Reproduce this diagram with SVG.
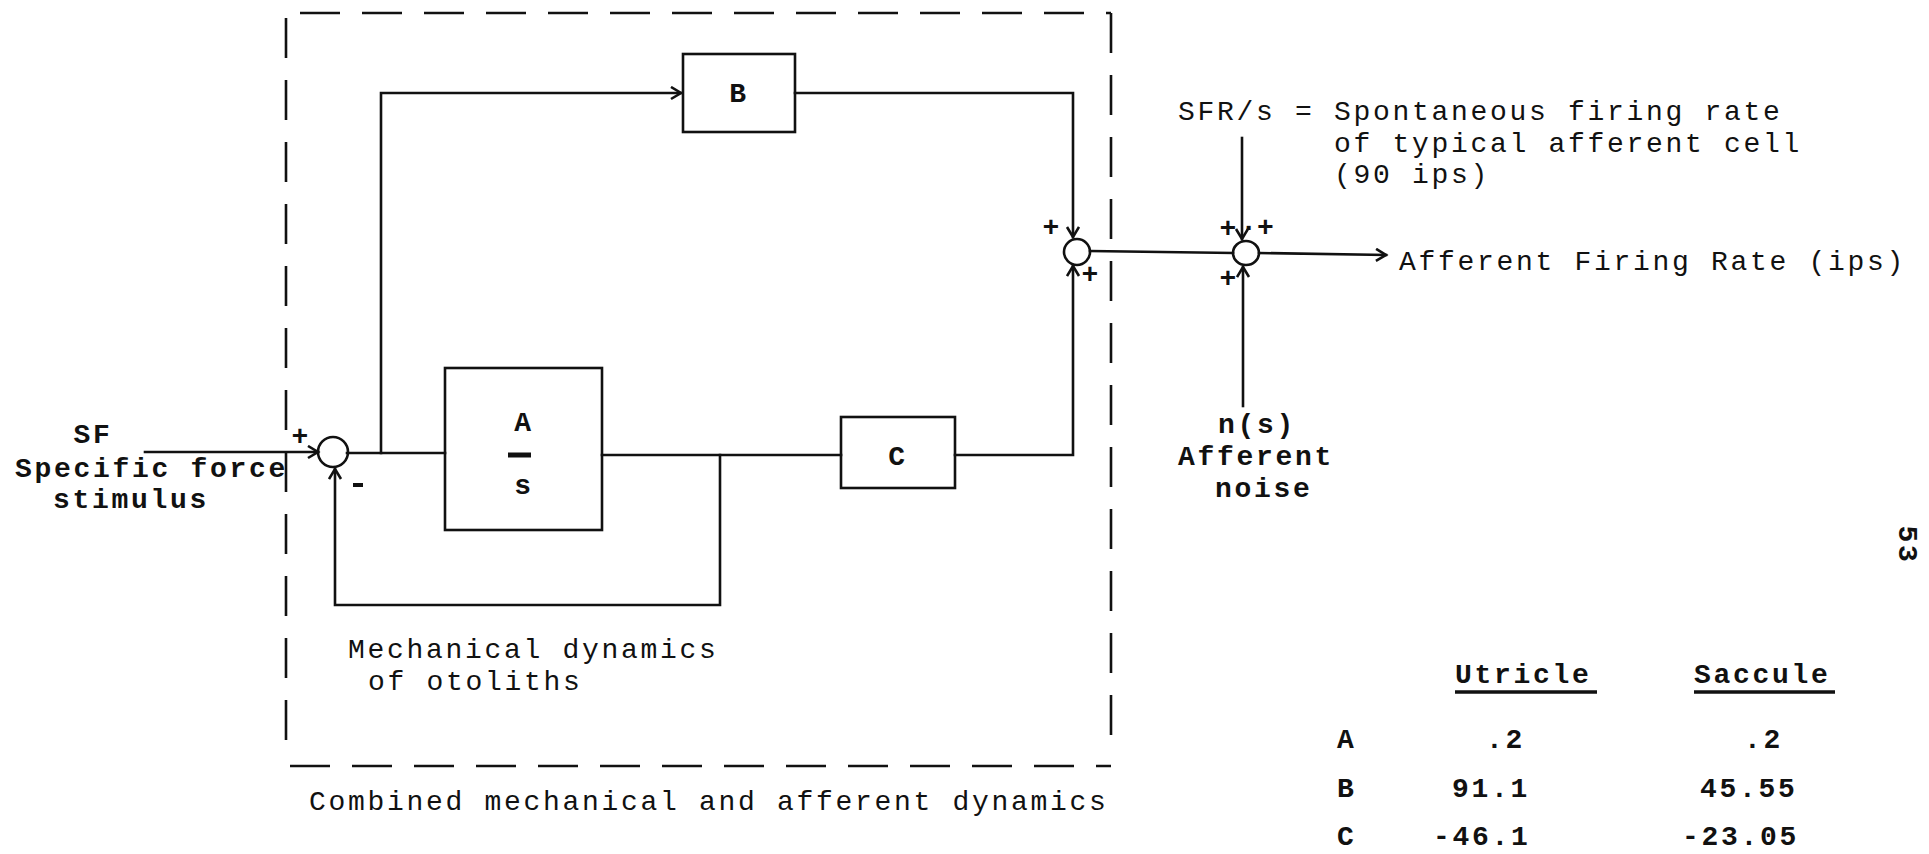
<svg xmlns="http://www.w3.org/2000/svg" width="1929" height="854" viewBox="0 0 1929 854">
<style>
.ln{fill:none;stroke:#111;stroke-width:2.6;stroke-linecap:square}
.box{fill:none;stroke:#111;stroke-width:2.6}
.dash{fill:none;stroke:#111;stroke-width:2.6;stroke-dasharray:40 22}
.t{font-family:"Liberation Mono","Courier New",monospace;font-size:28px;letter-spacing:2.7px;fill:#111}
.b{font-weight:bold}
.s{font-family:"Liberation Mono","Courier New",monospace;font-size:28px;font-weight:bold;fill:#111}
</style>
<defs>
<marker id="arr" markerUnits="userSpaceOnUse" markerWidth="16" markerHeight="16" refX="11" refY="7" orient="auto">
<path d="M1,1 L11,7 L1,13" fill="none" stroke="#111" stroke-width="2.6"/>
</marker>
</defs>
<rect width="1929" height="854" fill="#fff"/>
<g id="frame">
<line class="dash" x1="300" y1="13" x2="1111" y2="13"/>
<line class="dash" x1="286" y1="18" x2="286" y2="740"/>
<line class="dash" x1="1111" y1="13" x2="1111" y2="740"/>
<line class="dash" x1="290" y1="766" x2="1111" y2="766"/>
</g>
<g id="connectors">
<path class="ln" d="M145,452 L318,452" marker-end="url(#arr)"/>
<path class="ln" d="M347,453 L445,453"/>
<path class="ln" d="M381,453 L381,93 L681,93" marker-end="url(#arr)"/>
<path class="ln" d="M795,93 L1073,93 L1073,237" marker-end="url(#arr)"/>
<path class="ln" d="M602,455 L841,455"/>
<path class="ln" d="M720,455 L720,605 L335,605 L335,469" marker-end="url(#arr)"/>
<path class="ln" d="M955,455 L1073,455 L1073,266" marker-end="url(#arr)"/>
<path class="ln" d="M1090,251 L1233,253"/>
<path class="ln" d="M1259,253 L1386,255" marker-end="url(#arr)"/>
<path class="ln" d="M1242,138 L1242,239" marker-end="url(#arr)"/>
<path class="ln" d="M1243,406 L1243,267" marker-end="url(#arr)"/>
</g>
<g id="sum1">
<circle class="box" cx="333" cy="452" r="15"/>
<text class="s" x="300" y="445" text-anchor="middle">+</text>
<line x1="353" y1="485" x2="363" y2="485" stroke="#111" stroke-width="4"/>
</g>
<g id="sum2">
<circle class="box" cx="1077" cy="252" r="13"/>
<text class="s" x="1051" y="236" text-anchor="middle">+</text>
<text class="s" x="1090" y="283" text-anchor="middle">+</text>
</g>
<g id="sum3">
<ellipse class="box" cx="1246" cy="253" rx="13" ry="12"/>
<text class="s" x="1228" y="237" text-anchor="middle">+</text>
<text class="s" x="1257" y="236" text-anchor="middle" font-size="22">·+</text>
<text class="s" x="1228" y="287" text-anchor="middle">+</text>
</g>
<g id="input">
<text class="t b" x="93" y="443" text-anchor="middle">SF</text>
<text class="t b" x="15" y="477">Specific force</text>
<text class="t b" x="53" y="508">stimulus</text>
</g>
<g id="blockA">
<rect class="box" x="445" y="368" width="157" height="162"/>
<text class="t b" x="524" y="431" text-anchor="middle" letter-spacing="0">A</text>
<line x1="508" y1="455" x2="531" y2="455" stroke="#111" stroke-width="5"/>
<text class="t b" x="524" y="494" text-anchor="middle" letter-spacing="0">s</text>
</g>
<g id="blockB">
<rect class="box" x="683" y="54" width="112" height="78"/>
<text class="t b" x="739" y="102" text-anchor="middle" letter-spacing="0">B</text>
</g>
<g id="blockC">
<rect class="box" x="841" y="417" width="114" height="71"/>
<text class="t b" x="898" y="465" text-anchor="middle" letter-spacing="0">C</text>
</g>
<g id="sfr">
<text class="t" x="1178" y="120">SFR/s = Spontaneous firing rate</text>
<text class="t" x="1334" y="152">of typical afferent cell</text>
<text class="t" x="1334" y="183">(90 ips)</text>
</g>
<g id="output">
<text class="t" x="1399" y="270">Afferent Firing Rate (ips)</text>
</g>
<g id="noise">
<text class="t b" x="1218" y="433">n(s)</text>
<text class="t b" x="1178" y="465">Afferent</text>
<text class="t b" x="1215" y="497">noise</text>
</g>
<g id="labels">
<text class="t" x="348" y="658">Mechanical dynamics</text>
<text class="t" x="368" y="690">of otoliths</text>
<text class="t" x="309" y="810">Combined mechanical and afferent dynamics</text>
</g>
<g id="table">
<text class="t b" x="1455" y="683">Utricle</text>
<line x1="1455" y1="692" x2="1597" y2="692" stroke="#111" stroke-width="3.5"/>
<text class="t b" x="1694" y="683">Saccule</text>
<line x1="1694" y1="692" x2="1835" y2="692" stroke="#111" stroke-width="3.5"/>
<text class="t b" x="1337" y="748">A</text>
<text class="t b" x="1486" y="748">.2</text>
<text class="t b" x="1744" y="748">.2</text>
<text class="t b" x="1337" y="797">B</text>
<text class="t b" x="1452" y="797">91.1</text>
<text class="t b" x="1700" y="797">45.55</text>
<text class="t b" x="1337" y="845">C</text>
<text class="t b" x="1433" y="845">-46.1</text>
<text class="t b" x="1682" y="845">-23.05</text>
</g>
<g id="pagenum">
<text class="t b" x="0" y="0" text-anchor="middle" transform="translate(1899,545) rotate(90)">53</text>
</g>
</svg>
